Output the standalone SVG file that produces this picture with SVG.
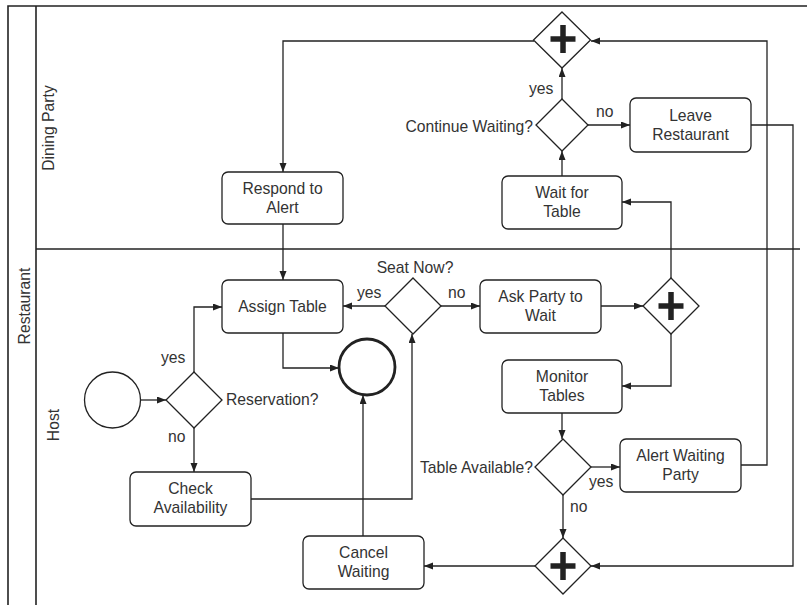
<svg xmlns="http://www.w3.org/2000/svg" width="807" height="605" viewBox="0 0 807 605">
  <defs>
    <marker id="arrow" markerUnits="userSpaceOnUse" markerWidth="10" markerHeight="8" refX="9" refY="3.5" orient="auto">
      <path d="M0,0 L9,3.5 L0,7 z" fill="#222"/>
    </marker>
    <g id="plus">
      <path d="M0,-14 V14 M-12.5,0 H12.5" stroke="#222" stroke-width="5.5" fill="none"/>
    </g>
  </defs>
  <style>
    text { font-family: "Liberation Sans", Arial, sans-serif; font-size: 15.7px; fill: #333; }
    .mid { text-anchor: middle; }
    .end { text-anchor: end; }
    .task { fill: #fff; stroke: #222; stroke-width: 1.3; }
    .gw { fill: #fff; stroke: #222; stroke-width: 1.3; }
    .frame { fill: none; stroke: #222; stroke-width: 1.6; }
    .flow { fill: none; stroke: #222; stroke-width: 1.3; marker-end: url(#arrow); }
    .line { fill: none; stroke: #222; stroke-width: 1.3; }
  </style>

  <rect width="807" height="605" fill="#fff"/>

  <!-- pool and lanes -->
  <g id="pool">
    <path class="frame" d="M8,605 V6 H807"/>
    <path class="frame" d="M36,6 V605"/>
    <path class="frame" d="M36,249 H800"/>
    <text transform="translate(30,306) rotate(-90)" class="mid">Restaurant</text>
    <text transform="translate(54,128) rotate(-90)" class="mid">Dining Party</text>
    <text transform="translate(58.5,425) rotate(-90)" class="mid">Host</text>
  </g>

  <!-- connectors -->
  <g id="connectors">
    <path class="flow" d="M534,41 H283 V172"/>
    <path class="flow" d="M283,224 V280"/>
    <path class="flow" d="M562,176 V151"/>
    <path class="flow" d="M562,99 V68"/>
    <path class="flow" d="M588,125 H630"/>
    <path class="flow" d="M751,125 H793 V566 H591"/>
    <path class="flow" d="M741,465 H767 V41 H591"/>
    <path class="flow" d="M671,278 V202 H622"/>
    <path class="flow" d="M671,334 V386 H622"/>
    <path class="flow" d="M601,306 H643"/>
    <path class="flow" d="M441,306 H480"/>
    <path class="flow" d="M385,306 H343"/>
    <path class="flow" d="M283,333 V368 H339"/>
    <path class="flow" d="M141,400 H166"/>
    <path class="flow" d="M194,372 V307 H222"/>
    <path class="flow" d="M194,428 V472"/>
    <path class="flow" d="M251,499 H412 V334"/>
    <path class="flow" d="M363,536 V395"/>
    <path class="flow" d="M562,413 V439"/>
    <path class="flow" d="M591,467 H620"/>
    <path class="flow" d="M563,495 V538"/>
    <path class="flow" d="M535,566 H424"/>

    <text x="529" y="94">yes</text>
    <text x="596" y="117">no</text>
    <text x="357" y="298">yes</text>
    <text x="448" y="298">no</text>
    <text x="161" y="363">yes</text>
    <text x="168" y="442">no</text>
    <text x="589" y="487">yes</text>
    <text x="570" y="512">no</text>
  </g>

  <!-- Dining Party lane -->
  <g id="join-top">
    <path class="gw" d="M562,12 L590.5,40 L562,68 L533.5,40 z"/>
    <use href="#plus" x="563" y="39"/>
  </g>
  <g id="continue-waiting">
    <path class="gw" d="M562,99 L588,125 L562,151 L536,125 z"/>
    <text x="533" y="132" class="end">Continue Waiting?</text>
  </g>
  <g id="leave-restaurant">
    <rect class="task" x="630" y="98" width="121" height="54" rx="6"/>
    <text x="690.5" y="121" class="mid">Leave</text>
    <text x="690.5" y="140" class="mid">Restaurant</text>
  </g>
  <g id="respond-to-alert">
    <rect class="task" x="222" y="172" width="121" height="52" rx="6"/>
    <text x="282.5" y="194" class="mid">Respond to</text>
    <text x="282.5" y="213" class="mid">Alert</text>
  </g>
  <g id="wait-for-table">
    <rect class="task" x="502" y="176" width="120" height="53" rx="6"/>
    <text x="562" y="198" class="mid">Wait for</text>
    <text x="562" y="217" class="mid">Table</text>
  </g>

  <!-- Host lane -->
  <g id="start">
    <circle cx="112.5" cy="400" r="28" fill="#fff" stroke="#222" stroke-width="1.3"/>
  </g>
  <g id="reservation">
    <path class="gw" d="M194,372 L222,400 L194,428 L166,400 z"/>
    <text x="226" y="405">Reservation?</text>
  </g>
  <g id="assign-table">
    <rect class="task" x="222" y="280" width="121" height="53" rx="6"/>
    <text x="282.5" y="312" class="mid">Assign Table</text>
  </g>
  <g id="seat-now">
    <path class="gw" d="M413,278 L441,306 L413,334 L385,306 z"/>
    <text x="415" y="273" class="mid">Seat Now?</text>
  </g>
  <g id="end">
    <circle cx="367" cy="367" r="28" fill="#fff" stroke="#222" stroke-width="2.8"/>
  </g>
  <g id="ask-party">
    <rect class="task" x="480" y="280" width="121" height="53" rx="6"/>
    <text x="540.5" y="302" class="mid">Ask Party to</text>
    <text x="540.5" y="321" class="mid">Wait</text>
  </g>
  <g id="fork-host">
    <path class="gw" d="M671,278 L699,306 L671,334 L643,306 z"/>
    <use href="#plus" x="671" y="306"/>
  </g>
  <g id="monitor-tables">
    <rect class="task" x="502" y="360" width="120" height="53" rx="6"/>
    <text x="562" y="382" class="mid">Monitor</text>
    <text x="562" y="401" class="mid">Tables</text>
  </g>
  <g id="table-available">
    <path class="gw" d="M563,439 L591,467 L563,495 L535,467 z"/>
    <text x="533" y="473" class="end">Table Available?</text>
  </g>
  <g id="alert-waiting-party">
    <rect class="task" x="620" y="439" width="121" height="53" rx="6"/>
    <text x="680.5" y="461" class="mid">Alert Waiting</text>
    <text x="680.5" y="480" class="mid">Party</text>
  </g>
  <g id="check-availability">
    <rect class="task" x="130" y="472" width="121" height="54" rx="6"/>
    <text x="190.5" y="494" class="mid">Check</text>
    <text x="190.5" y="513" class="mid">Availability</text>
  </g>
  <g id="cancel-waiting">
    <rect class="task" x="303" y="536" width="121" height="53" rx="6"/>
    <text x="363.5" y="558" class="mid">Cancel</text>
    <text x="363.5" y="577" class="mid">Waiting</text>
  </g>
  <g id="join-bottom">
    <path class="gw" d="M563,538 L591,566 L563,594 L535,566 z"/>
    <use href="#plus" x="563" y="566"/>
  </g>
</svg>
